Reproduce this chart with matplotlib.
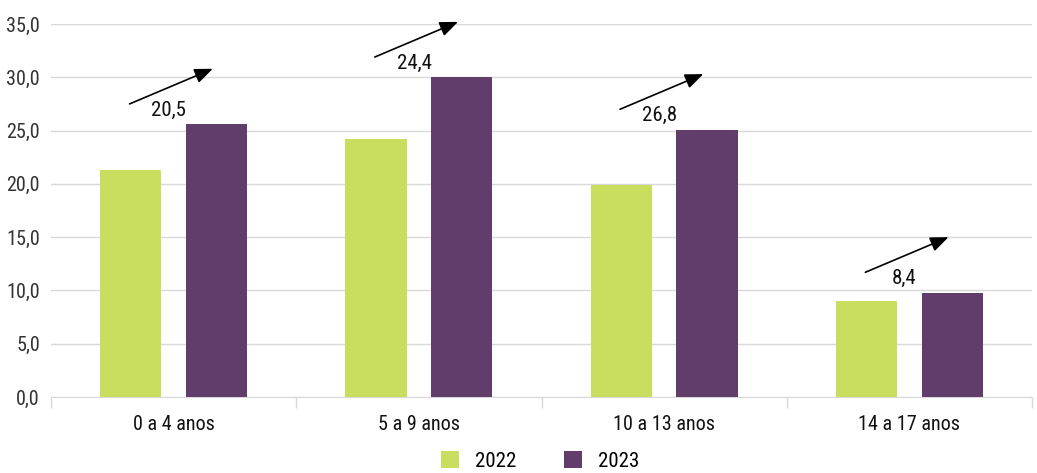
import matplotlib
matplotlib.use("Agg")
import matplotlib.pyplot as plt
from matplotlib.ticker import FuncFormatter, FixedLocator
from matplotlib import font_manager

categories = ["0 a 4 anos", "5 a 9 anos", "10 a 13 anos", "14 a 17 anos"]
series_names = ["2022", "2023"]
values_2022 = [21.3, 24.2, 19.9, 9.0]
values_2023 = [25.6, 30.0, 25.1, 9.8]
growth_labels = ["20,5", "24,4", "26,8", "8,4"]

fonts = font_manager.fontManager.ttflist
cands = [f for f in fonts if ("Condensed" in f.name or "Narrow" in f.name or f.stretch in ("condensed", "semi-condensed", 600, 500) or "ondensed" in f.fname)]
fam = "DejaVu Sans"
stretch = "normal"
for f in cands:
    if "Roboto" in f.name or "Open Sans" in f.name:
        fam = f.name; stretch = f.stretch; break
else:
    for f in cands:
        fam = f.name; stretch = f.stretch; break
plt.rcParams["font.family"] = [fam, "DejaVu Sans"]
plt.rcParams["font.stretch"] = stretch

green = "#C9DD5E"
purple = "#613D6B"

fig = plt.figure(figsize=(10.37, 4.73), dpi=100)
ax = fig.add_axes([51/1037, 76/473, (1032-51)/1037, (397-24)/473])

x = list(range(len(categories)))
w = 0.25
off = 0.175
ax.bar([i - off for i in x], values_2022, width=w, color=green, label=series_names[0], zorder=3)
ax.bar([i + off for i in x], values_2023, width=w, color=purple, label=series_names[1], zorder=3)

for i, (v, lab) in enumerate(zip(values_2023, growth_labels)):
    ax.annotate("", xy=(i + 0.17, v + 5.3), xytext=(i - 0.19, v + 1.8),
                arrowprops=dict(arrowstyle="-|>,head_length=1.1,head_width=0.45", color="black", lw=1.2),
                annotation_clip=False, zorder=5)
    ax.text(i - 0.02, v + 1.3, lab, ha="center", va="center", fontsize=15, color="#111111", zorder=6)

ax.set_xlim(-0.5, 3.5)
ax.set_ylim(0, 35)
ax.set_yticks([0, 5, 10, 15, 20, 25, 30, 35])
ax.yaxis.set_major_formatter(FuncFormatter(lambda v, p: f"{v:.1f}".replace(".", ",")))
ax.grid(axis="y", color="#d9d9d9", lw=1, zorder=0)
ax.set_axisbelow(True)

ax.set_xticks(x)
ax.set_xticklabels(categories)
ax.xaxis.set_minor_locator(FixedLocator([-0.5, 0.5, 1.5, 2.5, 3.5]))
ax.tick_params(axis="x", which="major", length=0, pad=13, labelsize=14.5, labelcolor="#111111")
ax.tick_params(axis="x", which="minor", length=8, color="#d9d9d9", width=1)
ax.tick_params(axis="y", length=0, pad=8, labelsize=14.5, labelcolor="#333333")

for s in ["top", "right", "left"]:
    ax.spines[s].set_visible(False)
ax.spines["bottom"].set_color("#d9d9d9")

leg = fig.legend(loc="center", bbox_to_anchor=(540/1037, 1 - 461/473), ncol=2, frameon=False,
                 fontsize=15, handlelength=0.87, handleheight=0.87, columnspacing=2.3, handletextpad=0.77)

fig.savefig("out.png", dpi=100)
